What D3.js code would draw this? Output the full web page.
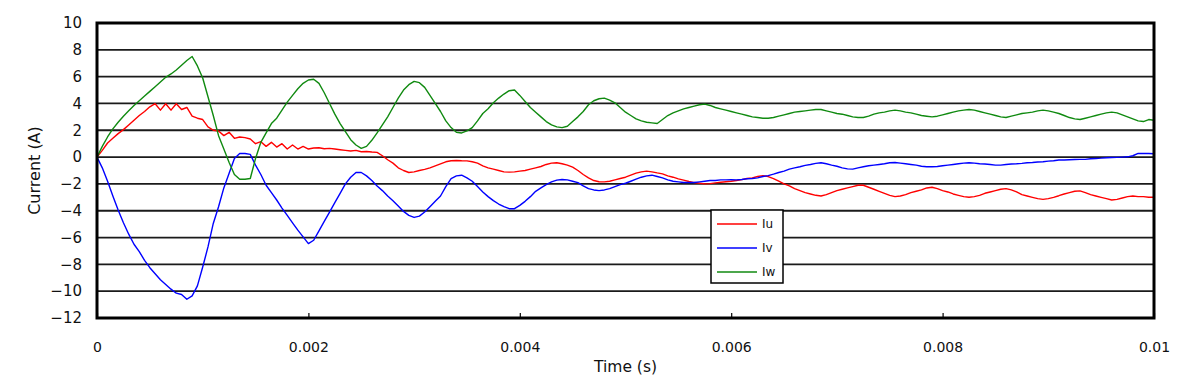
<!DOCTYPE html>
<html><head><meta charset="utf-8">
<script src="https://cdn.jsdelivr.net/npm/d3@7"></script>
<style>body{margin:0;background:#fff} svg{display:block}</style>
</head><body>
<svg id="chart" width="1192" height="386"></svg>
<script>
// sample spacing of the traces (seconds)
const timeStepSec = 0.00005;

// Iu (A), one value every 0.05 ms from 0 to 10 ms
const iu = [
 0,0.5,1.05,1.4,1.75,2.05,2.4,2.75,3.1,3.4,3.75,3.98,3.5,3.98,3.5,3.98,3.55,3.7,3.05,2.9,2.8,
 2.25,2.0,1.95,1.6,1.85,1.4,1.5,1.45,1.35,1.0,1.15,0.8,1.1,0.75,1.0,0.6,0.9,0.6,0.8,0.6,
 0.68,0.7,0.62,0.65,0.6,0.55,0.5,0.45,0.5,0.4,0.42,0.38,0.35,0.1,-0.2,-0.45,-0.8,-1.0,-1.15,-1.1,
 -1.0,-0.92,-0.8,-0.65,-0.5,-0.35,-0.27,-0.25,-0.27,-0.28,-0.35,-0.45,-0.65,-0.8,-0.9,-1.0,-1.1,-1.12,-1.1,-1.05,
 -1.0,-0.9,-0.8,-0.7,-0.55,-0.45,-0.42,-0.5,-0.6,-0.75,-1.0,-1.3,-1.55,-1.75,-1.84,-1.85,-1.8,-1.7,-1.6,-1.5,
 -1.35,-1.2,-1.1,-1.05,-1.1,-1.18,-1.25,-1.4,-1.5,-1.62,-1.72,-1.82,-1.9,-1.95,-2.0,-1.98,-1.92,-1.88,-1.84,-1.8,
 -1.75,-1.68,-1.6,-1.55,-1.45,-1.38,-1.45,-1.6,-1.8,-2.0,-2.15,-2.35,-2.5,-2.65,-2.75,-2.85,-2.9,-2.8,-2.65,-2.5,
 -2.4,-2.3,-2.2,-2.1,-2.1,-2.25,-2.4,-2.55,-2.7,-2.85,-2.95,-2.9,-2.8,-2.65,-2.55,-2.45,-2.3,-2.25,-2.35,-2.5,
 -2.6,-2.75,-2.85,-2.95,-3.0,-2.95,-2.85,-2.7,-2.6,-2.5,-2.4,-2.35,-2.45,-2.6,-2.8,-2.9,-3.0,-3.1,-3.15,-3.1,
 -3.0,-2.88,-2.75,-2.65,-2.55,-2.52,-2.65,-2.8,-2.9,-3.0,-3.1,-3.2,-3.15,-3.05,-2.95,-2.9,-2.95,-2.95,-3.0,-3.0
];

// Iv (A)
const iv = [
 0,-0.8,-1.8,-2.9,-3.95,-4.9,-5.75,-6.5,-7.05,-7.7,-8.25,-8.7,-9.15,-9.5,-9.85,-10.15,-10.25,-10.6,-10.35,-9.6,-8.2,
 -6.7,-4.95,-3.7,-2.3,-1.2,-0.1,0.27,0.27,0.2,-0.6,-1.3,-2.1,-2.65,-3.2,-3.8,-4.35,-4.9,-5.45,-5.95,-6.45,
 -6.2,-5.5,-4.8,-4.1,-3.4,-2.7,-2.0,-1.5,-1.15,-1.15,-1.4,-1.75,-2.15,-2.5,-2.9,-3.25,-3.65,-4.05,-4.35,-4.5,
 -4.4,-4.1,-3.7,-3.3,-2.9,-2.2,-1.6,-1.4,-1.35,-1.55,-1.8,-2.2,-2.6,-2.95,-3.25,-3.5,-3.7,-3.85,-3.85,-3.6,
 -3.3,-2.95,-2.55,-2.3,-2.05,-1.85,-1.72,-1.67,-1.7,-1.8,-1.9,-2.15,-2.35,-2.45,-2.5,-2.45,-2.35,-2.2,-2.05,-1.95,
 -1.8,-1.65,-1.5,-1.4,-1.35,-1.45,-1.55,-1.7,-1.8,-1.85,-1.9,-1.9,-1.9,-1.85,-1.8,-1.75,-1.75,-1.7,-1.7,-1.68,
 -1.7,-1.67,-1.62,-1.6,-1.55,-1.45,-1.38,-1.27,-1.15,-1.05,-0.9,-0.8,-0.72,-0.62,-0.55,-0.47,-0.42,-0.5,-0.6,-0.68,
 -0.8,-0.88,-0.9,-0.8,-0.72,-0.65,-0.6,-0.55,-0.5,-0.42,-0.4,-0.45,-0.5,-0.55,-0.6,-0.68,-0.72,-0.72,-0.7,-0.65,
 -0.6,-0.55,-0.5,-0.45,-0.42,-0.45,-0.5,-0.52,-0.55,-0.6,-0.6,-0.55,-0.52,-0.5,-0.47,-0.42,-0.4,-0.37,-0.35,-0.3,
 -0.27,-0.22,-0.22,-0.2,-0.18,-0.17,-0.17,-0.12,-0.1,-0.08,-0.05,-0.03,-0.02,0.0,0.02,0.1,0.27,0.28,0.27,0.25
];

// Iw (A)
const iw = [
 0,0.8,1.5,2.1,2.6,3.05,3.45,3.85,4.2,4.55,4.9,5.25,5.6,5.95,6.2,6.5,6.85,7.2,7.5,6.8,5.9,
 4.5,3.1,1.6,0.6,-0.4,-1.3,-1.65,-1.65,-1.6,-0.1,1.1,1.8,2.5,2.9,3.5,4.1,4.6,5.1,5.5,5.75,
 5.8,5.5,4.8,4.0,3.2,2.5,1.9,1.3,0.9,0.65,0.8,1.25,1.8,2.4,3.0,3.7,4.4,5.0,5.4,5.65,
 5.55,5.2,4.6,4.0,3.4,2.7,2.2,1.85,1.8,1.95,2.2,2.7,3.25,3.6,4.05,4.4,4.7,4.95,5.0,4.6,
 4.15,3.7,3.35,3.0,2.65,2.4,2.25,2.2,2.3,2.65,3.0,3.4,3.9,4.2,4.35,4.4,4.25,4.05,3.7,3.35,
 3.1,2.85,2.7,2.6,2.55,2.5,2.8,3.1,3.3,3.45,3.6,3.7,3.8,3.9,3.95,3.85,3.7,3.6,3.5,3.4,
 3.3,3.2,3.1,3.0,2.95,2.9,2.9,2.95,3.05,3.15,3.25,3.35,3.4,3.45,3.5,3.55,3.55,3.45,3.35,3.25,
 3.2,3.1,3.0,2.95,2.95,3.05,3.2,3.3,3.35,3.45,3.5,3.45,3.35,3.3,3.2,3.1,3.05,3.0,3.05,3.15,
 3.25,3.35,3.45,3.5,3.55,3.5,3.4,3.3,3.2,3.1,3.0,2.95,3.05,3.15,3.25,3.3,3.35,3.45,3.5,3.45,
 3.35,3.25,3.1,2.95,2.85,2.8,2.9,3.0,3.1,3.2,3.3,3.35,3.3,3.15,3.0,2.85,2.7,2.65,2.8,2.75
];

const seriesNames = ["Iu", "Iv", "Iw"];
const seriesColors = ["#ff0000", "#0000ff", "#108a10"];
const yTicks = [-12, -10, -8, -6, -4, -2, 0, 2, 4, 6, 8, 10];
const xTicks = [0, 0.002, 0.004, 0.006, 0.008, 0.01];
const xTickLabels = ["0", "0.002", "0.004", "0.006", "0.008", "0.01"];
const xTitle = "Time (s)";
const yTitle = "Current (A)";

const times = iu.map((_, i) => +(i * timeStepSec).toFixed(6));
const seriesValues = [iu, iv, iw];

const svg = d3.select("#chart");
const L = 97, R = 1154, T = 23, B = 318;
const x = d3.scaleLinear().domain([0, 0.01]).range([L, R]);
const y = d3.scaleLinear().domain([-12, 10]).range([B, T]);
const font = "'DejaVu Sans', sans-serif";

// gridlines
svg.append("g").selectAll("line")
  .data(yTicks.filter(v => v > -12 && v < 10))
  .join("line")
  .attr("x1", L).attr("x2", R)
  .attr("y1", d => y(d)).attr("y2", d => y(d))
  .attr("stroke", "#1a1a1a").attr("stroke-width", 1.8);

// series lines
const line = d3.line().x((d, i) => x(times[i])).y(d => y(d));
svg.append("g").selectAll("path")
  .data(seriesValues)
  .join("path")
  .attr("d", d => line(d))
  .attr("fill", "none")
  .attr("stroke", (d, i) => seriesColors[i])
  .attr("stroke-width", 1.4)
  .attr("stroke-linejoin", "round");

// y axis
const yAxis = svg.append("g").attr("transform", `translate(${L},0)`)
  .call(d3.axisLeft(y).tickValues(yTicks).tickSize(0).tickPadding(15));
yAxis.select(".domain").remove();
yAxis.selectAll("text").attr("font-family", font).attr("font-size", 15).attr("fill", "#111");

// x axis
const xAxis = svg.append("g").attr("transform", `translate(0,${B})`)
  .call(d3.axisBottom(x).tickValues(xTicks).tickFormat((d, i) => xTickLabels[i])
    .tickSizeInner(-5).tickSizeOuter(0).tickPadding(24));
xAxis.select(".domain").remove();
xAxis.selectAll("line").attr("stroke", "#000").attr("stroke-width", 1.2);
xAxis.selectAll("text").attr("font-family", font).attr("font-size", 14).attr("fill", "#111");

// plot border
svg.append("rect")
  .attr("x", L).attr("y", T).attr("width", R - L).attr("height", B - T)
  .attr("fill", "none").attr("stroke", "#000").attr("stroke-width", 3);

// axis titles
svg.append("text")
  .attr("x", (L + R) / 2).attr("y", 367)
  .attr("text-anchor", "middle").attr("dominant-baseline", "middle")
  .attr("font-family", font).attr("font-size", 15.5).attr("fill", "#111")
  .text(xTitle);
svg.append("text")
  .attr("transform", `translate(35,${(T + B) / 2}) rotate(-90)`)
  .attr("text-anchor", "middle").attr("dominant-baseline", "middle")
  .attr("font-family", font).attr("font-size", 16).attr("fill", "#111")
  .text(yTitle);

// legend
const lg = svg.append("g").attr("transform", "translate(711,210)");
lg.append("rect").attr("width", 72).attr("height", 73)
  .attr("fill", "#fff").attr("stroke", "#000").attr("stroke-width", 1.5);
const items = lg.selectAll("g.item").data(seriesNames).join("g")
  .attr("transform", (d, i) => `translate(0,${14 + i * 24})`);
items.append("line").attr("x1", 6).attr("x2", 46)
  .attr("stroke", (d, i) => seriesColors[i]).attr("stroke-width", 1.5);
items.append("text").attr("x", 51).attr("dominant-baseline", "middle")
  .attr("font-family", font).attr("font-size", 12).attr("fill", "#111")
  .text(d => d);
</script>
</body></html>
